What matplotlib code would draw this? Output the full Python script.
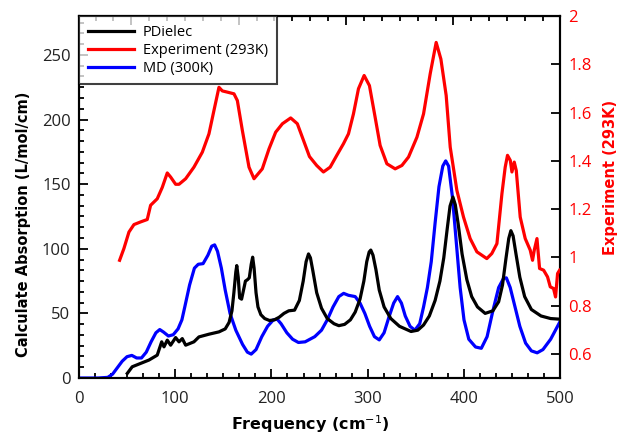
import matplotlib
matplotlib.use("Agg")
import matplotlib.pyplot as plt
from matplotlib.ticker import MultipleLocator
from matplotlib.lines import Line2D

# ---------------- data ----------------
pd_x = [50.3, 55.4, 64.1, 72.8, 81.4, 86.0, 88.4, 91.8, 95.3, 100.5, 104.0, 107.4,
        110.9, 119.5, 124.7, 135.1, 145.5, 152, 156, 159, 161, 163, 164, 165.5, 167,
        169, 171, 173, 175, 177, 179, 180.5, 182, 184, 186, 189, 193, 198, 203, 208,
        213, 218, 224, 229, 233, 236, 238.5, 240.5, 243, 247, 252, 258, 265, 270,
        276, 282, 287, 292, 296, 299, 301.5, 303.2, 305.5, 308.5, 312, 317, 324, 333,
        345, 352, 358, 364, 370, 375, 379, 382.5, 385.5, 388.5, 391, 394, 398, 403,
        408, 414, 422, 430, 436, 440, 443.5, 446.5, 448.7, 451, 454, 458, 463, 470,
        480, 490, 500]
pd_y = [3.6, 8.7, 11.3, 13.9, 17.7, 28.0, 24.1, 29.3, 25.4, 31.3, 28.0, 30.5,
        25.4, 28.0, 31.8, 33.9, 35.7, 38, 43, 52, 66, 82, 87, 78, 62,
        61, 68, 75, 76, 77.5, 88, 93.5, 85, 66, 55, 49, 46, 44.5, 45, 47,
        50, 52, 52.5, 60, 75, 90, 96, 93, 83, 66, 54, 46, 42, 40.5,
        41.5, 45, 51, 61, 75, 90, 97.5, 99, 95, 84, 68, 55, 46, 40,
        36, 37, 41, 48, 60, 75, 93, 115, 133, 140, 134, 119, 96, 76,
        63, 55, 50, 52, 59, 72, 92, 108, 114, 110, 96, 78, 63, 53,
        48, 46, 45.5]

md_x = [0, 10, 20, 30, 35, 40, 45, 50, 55, 60, 65, 70, 75, 80, 84, 88, 93, 98, 103,
        107, 110, 115, 120, 124, 129, 134, 138, 141, 144, 148, 152, 157, 163, 170,
        175, 179, 184, 190, 196, 202, 206, 210, 216, 222, 228, 235, 245, 252, 258,
        264, 270, 275, 280, 287, 292, 297, 302, 307, 312, 317, 322, 327, 331, 335,
        339, 344, 349, 354, 358, 362, 366, 370, 374, 378, 381, 384, 388, 392, 396,
        400, 405, 412, 418, 424, 430, 436, 441, 444, 448, 453, 458, 464, 470, 476,
        482, 490, 500]
md_y = [0, 0, 0, 0.5, 3, 8, 13, 16.5, 17.5, 15.5, 15.5, 20, 28, 35, 37.5, 35.5,
        32.5, 33.5, 38, 45, 55, 72, 85, 88, 88.5, 95, 102, 103, 98, 85, 68, 50,
        37, 26, 20, 18.5, 22, 32, 40, 45, 45.5, 42, 35, 30, 27.5, 28, 32, 37,
        45, 55, 63, 65.5, 64, 63, 58, 50, 40, 32, 29.5, 35, 47, 58, 63, 58, 48,
        40, 37, 42, 55, 70, 90, 120, 148, 164, 168, 164, 140, 105, 70, 45, 30,
        24, 23, 32, 52, 70, 77, 77.5, 70, 55, 40, 27, 21, 19.5, 22, 30, 44]

ex_x = [42.3, 46.8, 52.0, 57.2, 64.1, 71.0, 74.5, 81.4, 86.6, 91.8, 95.3, 100.5, 104.0,
        110.9, 119.5, 128.2, 135.1, 140.3, 145.5, 149.0, 154.2, 161.1, 164.6, 169.8,
        176.7, 181.9, 190.5, 197.5, 204.4, 211.4, 220.0, 226.9, 232.1, 239.5, 247.0,
        254.0, 261.0, 267.9, 274.8, 280.0, 285.2, 290.4, 296.3, 301.8, 307.7, 312.9,
        319.9, 328.5, 335.5, 342.4, 351.1, 358.0, 364.9, 371.1, 376.0, 381.5, 385.7,
        392.6, 399.5, 406.4, 413.4, 423.7, 428.9, 434.2, 439.4, 442.8, 445.2, 448.1,
        449.8, 452.2, 454.3, 458.4, 463.6, 468.8, 471.2, 473.0, 475.8, 478.5, 482.7,
        486.8, 489.6, 493.0, 495.1, 497.2, 499.3]
ex_y = [0.988, 1.037, 1.105, 1.136, 1.147, 1.157, 1.216, 1.243, 1.290, 1.350, 1.333,
        1.303, 1.303, 1.326, 1.374, 1.436, 1.512, 1.609, 1.705, 1.690, 1.685, 1.678,
        1.650, 1.526, 1.374, 1.326, 1.367, 1.450, 1.519, 1.554, 1.578, 1.554, 1.498,
        1.418, 1.381, 1.354, 1.374, 1.423, 1.471, 1.512, 1.595, 1.699, 1.754, 1.712,
        1.581, 1.464, 1.388, 1.367, 1.381, 1.416, 1.498, 1.595, 1.761, 1.891, 1.822,
        1.671, 1.457, 1.278, 1.167, 1.078, 1.023, 0.995, 1.016, 1.057, 1.264, 1.374,
        1.423, 1.402, 1.354, 1.395, 1.360, 1.167, 1.078, 1.030, 0.988, 1.030, 1.078,
        0.954, 0.947, 0.919, 0.878, 0.871, 0.836, 0.933, 0.947]

series_labels = ["PDielec", "Experiment (293K)", "MD (300K)"]
x_label = "Frequency (cm$^{-1}$)"
left_label = "Calculate Absorption (L/mol/cm)"
right_label = "Experiment (293K)"

RED = "#ff0000"
BLUE = "#0000ff"
tick_font = "Open Sans"

fig = plt.figure(figsize=(6.26, 4.36), dpi=100)
ax = fig.add_axes([0.126, 0.133, 0.769, 0.830])

lw = 2.3
ax.plot(md_x, md_y, color=BLUE, lw=lw, zorder=3, solid_joinstyle="round")
ax.plot(pd_x, pd_y, color="black", lw=lw, zorder=4, solid_joinstyle="round")
ax.set_xlim(0, 500)
ax.set_ylim(0, 280)
ax.xaxis.set_major_locator(MultipleLocator(100))
ax.xaxis.set_minor_locator(MultipleLocator(100 / 6))
ax.yaxis.set_major_locator(MultipleLocator(50))
ax.yaxis.set_minor_locator(MultipleLocator(50 / 6))
ax.tick_params(which="both", direction="in", top=False, right=False, width=1.3,
               colors="black")
ax.tick_params(which="major", length=6.5, labelsize=12, pad=6)
ax.tick_params(axis="x", which="major", pad=9)
ax.tick_params(which="minor", length=3.5)
for lab in ax.get_xticklabels() + ax.get_yticklabels():
    lab.set_fontfamily(tick_font)
    lab.set_color("#222222")
for s in ax.spines.values():
    s.set_linewidth(1.5)

# top ticks (secondary scale shown by reference)
f = lambda x: 300 + (x - 277.5) / 1.115
finv = lambda t: 277.5 + (t - 300) * 1.115
top = ax.secondary_xaxis("top", functions=(f, finv))
top.xaxis.set_major_locator(MultipleLocator(100))
top.xaxis.set_minor_locator(MultipleLocator(100 / 6))
top.tick_params(which="both", direction="in", labeltop=False, width=1.3)
top.tick_params(which="major", length=6.5)
top.tick_params(which="minor", length=3.5)

ax.set_xlabel(x_label, fontsize=11.5, fontweight="bold", family="DejaVu Sans")
ax.xaxis.set_label_coords(0.48, -0.097)
ax.set_ylabel(left_label, fontsize=10.5, fontweight="bold", family="DejaVu Sans")
ax.yaxis.set_label_coords(-0.10, 0.425)

ax2 = ax.twinx()
ax2.plot(ex_x, ex_y, color=RED, lw=lw, zorder=3, solid_joinstyle="round")
ax2.set_ylim(0.5, 2.0)
ax2.tick_params(axis="y", which="major", direction="in", length=6.5, width=1.3,
                labelsize=12, colors="black", labelcolor=RED, pad=6)
ax2.set_yticks([0.6, 0.8, 1.0, 1.2, 1.4, 1.6, 1.8, 2.0])
ax2.set_yticklabels(["0.6", "0.8", "1", "1.2", "1.4", "1.6", "1.8", "2"])
for lab in ax2.get_yticklabels():
    lab.set_fontfamily(tick_font)
for s in ax2.spines.values():
    s.set_linewidth(1.5)
ax2.set_ylabel(right_label, fontsize=10.5, fontweight="bold", family="DejaVu Sans",
               color=RED)
ax2.yaxis.set_label_coords(1.088, 0.555)

handles = [Line2D([], [], color="black", lw=lw),
           Line2D([], [], color=RED, lw=lw),
           Line2D([], [], color=BLUE, lw=lw)]
leg = ax2.legend(handles, series_labels, loc="upper left", bbox_to_anchor=(0, 1),
                 borderaxespad=0, fancybox=False, framealpha=0.75, edgecolor="black",
                 prop={"family": tick_font, "size": 10.5}, handlelength=3.2,
                 labelspacing=0.2, borderpad=0.6, handletextpad=0.6)
leg.get_frame().set_linewidth(1.5)
leg.set_zorder(10)

fig.savefig("out.png", dpi=100)
